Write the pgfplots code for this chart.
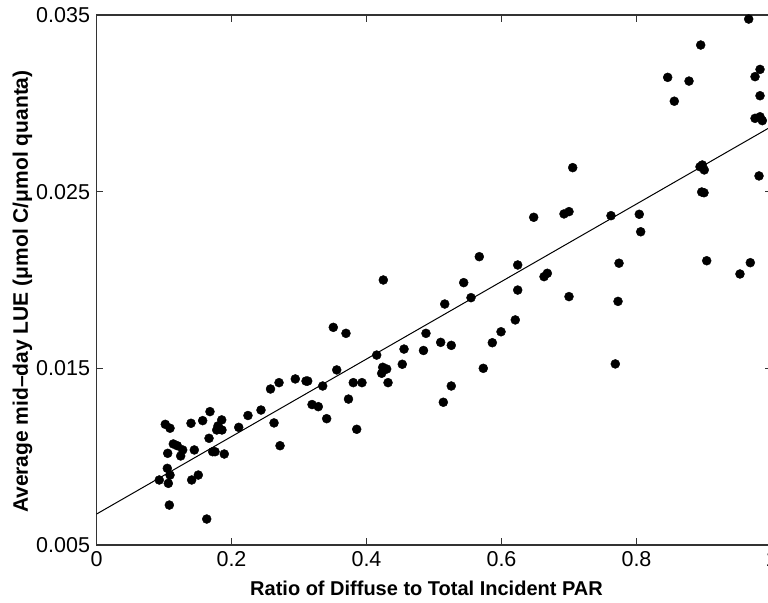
\documentclass[border=0pt]{standalone}
\usepackage{pgfplots}
\pgfplotsset{compat=1.18}
\usepackage{fontspec}
\setmainfont{Liberation Sans}
\begin{document}
\begin{tikzpicture}
\useasboundingbox (0,0) rectangle (768bp,603bp);
\clip (0,0) rectangle (768bp,603bp);
\begin{axis}[
  at={(96.5bp,58bp)}, anchor=south west,
  scale only axis, width=675bp, height=530bp,
  xmin=0, xmax=1, ymin=0.005, ymax=0.035,
  xtick={0,0.2,0.4,0.6,0.8,1},
  xticklabels={0,0.2,0.4,0.6,0.8,1},
  ytick={0.005,0.015,0.025,0.035},
  yticklabels={0.005,0.015,0.025,0.035},
  tick align=inside, major tick length=7bp,
  axis line style={line width=1.2bp, black!80},
  every tick/.style={black!80, line width=1bp},
  tick label style={font=\fontsize{21.5bp}{25bp}\selectfont, black},
  xticklabel style={yshift=-3bp},
  yticklabel style={xshift=-3bp},
  xlabel={\textbf{Ratio of Diffuse to Total Incident PAR}},
  ylabel={\textbf{Average mid–day LUE (μmol C/μmol quanta)}},
  xlabel style={font=\fontsize{20bp}{24bp}\selectfont, at={(axis description cs:0.4889,-0.0962)}, anchor=base},
  ylabel style={font=\fontsize{21bp}{25bp}\selectfont, at={(axis description cs:-0.1015,0.478)}, anchor=base},
]
\addplot[black, line width=1bp] coordinates {(0,0.00675) (1,0.02869)};
\addplot[only marks, mark=*, mark size=4.5bp, mark options={fill=black, draw=black}] coordinates {
(0.1019,0.01183) (0.1089,0.01161) (0.1400,0.01189) (0.1573,0.01204) (0.1681,0.01255)
(0.1855,0.01208) (0.1800,0.01174) (0.1859,0.01151) (0.1781,0.01151) (0.2107,0.01166)
(0.2244,0.01233) (0.2437,0.01264) (0.1667,0.01104) (0.1138,0.01072) (0.1197,0.01062)
(0.1277,0.01038) (0.1055,0.01019) (0.1247,0.01004) (0.1449,0.01038) (0.1721,0.01028)
(0.1756,0.01028) (0.1893,0.01015) (0.1049,0.00934) (0.1089,0.00896) (0.0930,0.00868)
(0.1064,0.00849) (0.1410,0.00868) (0.1508,0.00896) (0.1079,0.00726) (0.1633,0.00647)
(0.2578,0.01383) (0.2704,0.01419) (0.2945,0.01440) (0.3104,0.01428) (0.3129,0.01428)
(0.3351,0.01400) (0.3559,0.01491) (0.2630,0.01191) (0.2719,0.01062) (0.3193,0.01295)
(0.3286,0.01283) (0.3410,0.01215) (0.3733,0.01326) (0.3855,0.01155) (0.3804,0.01419)
(0.3933,0.01419) (0.3508,0.01732) (0.3696,0.01698) (0.4151,0.01575) (0.4240,0.01506)
(0.4299,0.01496) (0.4225,0.01472) (0.4319,0.01419) (0.4249,0.02000) (0.4530,0.01523)
(0.4556,0.01609) (0.4844,0.01601) (0.4881,0.01698) (0.5138,0.01308) (0.5256,0.01400)
(0.5099,0.01647) (0.5256,0.01630) (0.5159,0.01864) (0.5548,0.01900) (0.5440,0.01985)
(0.5671,0.02132) (0.5730,0.01500) (0.5864,0.01645) (0.5993,0.01707) (0.6204,0.01774)
(0.6240,0.01943) (0.6240,0.02085) (0.6477,0.02355) (0.6630,0.02019) (0.6679,0.02038)
(0.7000,0.01906) (0.6926,0.02374) (0.7000,0.02387) (0.7055,0.02636) (0.7622,0.02364)
(0.7686,0.01525) (0.7726,0.01879) (0.7741,0.02095) (0.8041,0.02372) (0.8062,0.02273)
(0.8462,0.03147) (0.8560,0.03012) (0.8778,0.03126) (0.8951,0.03330) (0.8941,0.02641)
(0.8975,0.02651) (0.9004,0.02623) (0.8966,0.02498) (0.9000,0.02494) (0.9040,0.02109)
(0.9533,0.02034) (0.9686,0.02098) (0.9662,0.03477) (0.9830,0.03192) (0.9756,0.03151)
(0.9830,0.03043) (0.9756,0.02915) (0.9830,0.02924) (0.9864,0.02902) (0.9815,0.02589)
};
\end{axis}
\end{tikzpicture}
\end{document}
